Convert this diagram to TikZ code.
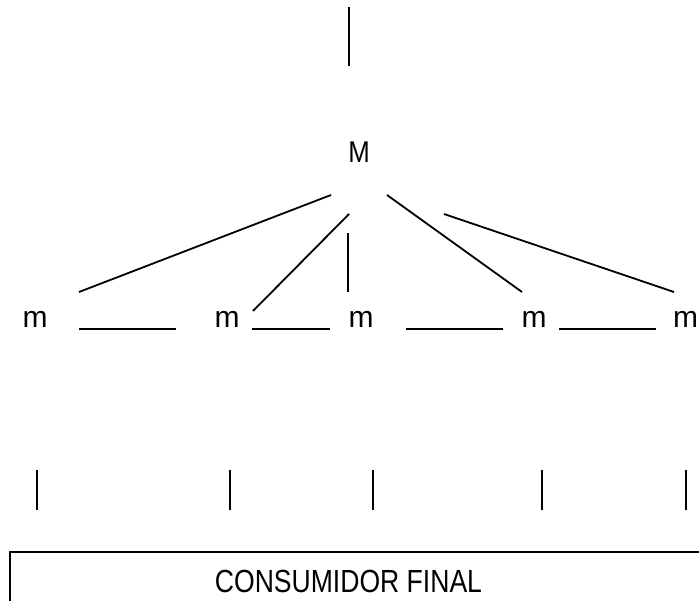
\documentclass[tikz,border=0pt]{standalone}
\usepackage{fontspec}
\setmainfont{Liberation Sans}
\begin{document}
\begin{tikzpicture}[x=1pt,y=-1pt,
  ln/.style={line width=1.8pt,black},
  lbl/.style={inner sep=0pt,anchor=base,font=\fontsize{30}{30}\selectfont},
  big/.style={inner sep=0pt,anchor=base,font=\fontsize{32}{32}\selectfont,xscale=0.83}]
\useasboundingbox (0,0) rectangle (699,601);
% top line
\coordinate (t1) at (349,7);
\coordinate (t2) at (349,66);
\draw[ln] (t1) -- (t2);
% M
\node[lbl,xscale=0.86] (M) at (359,163) {M};
% upper ends
\coordinate (u1) at (331,195);
\coordinate (u2) at (349,214);
\coordinate (u3) at (348,233);
\coordinate (u4) at (387,195);
\coordinate (u5) at (444,214);
% lower ends
\coordinate (l1) at (79,292);
\coordinate (l2) at (253,311);
\coordinate (l3) at (348,292);
\coordinate (l4) at (522,292);
\coordinate (l5) at (674,292);
\draw[ln] (u1) -- (l1);
\draw[ln] (u2) -- (l2);
\draw[ln] (u3) -- (l3);
\draw[ln] (u4) -- (l4);
\draw[ln] (u5) -- (l5);
% m nodes
\node[lbl] (m1) at (35,328) {m};
\node[lbl] (m2) at (227,328) {m};
\node[lbl] (m3) at (361,328) {m};
\node[lbl] (m4) at (534,328) {m};
\node[lbl] (m5) at (685.5,328) {m};
% horizontal lines
\coordinate (h1a) at (79,329); \coordinate (h1b) at (176,329);
\coordinate (h2a) at (252,329); \coordinate (h2b) at (330,329);
\coordinate (h3a) at (406,329); \coordinate (h3b) at (503,329);
\coordinate (h4a) at (559,329); \coordinate (h4b) at (656,329);
\draw[ln] (h1a) -- (h1b);
\draw[ln] (h2a) -- (h2b);
\draw[ln] (h3a) -- (h3b);
\draw[ln] (h4a) -- (h4b);
% short verticals
\foreach \i/\x in {1/37,2/230,3/373,4/542,5/686}{
  \coordinate (va\i) at (\x,470);
  \coordinate (vb\i) at (\x,510);
  \draw[ln] (va\i) -- (vb\i);
}
% box
\coordinate (b1) at (10,601);
\coordinate (b2) at (10,552);
\coordinate (b3) at (699,552);
\draw[ln] (b1) -- (b2) -- (b3);
\node[big] (cf) at (348.5,592) {CONSUMIDOR FINAL};
\end{tikzpicture}
\end{document}
